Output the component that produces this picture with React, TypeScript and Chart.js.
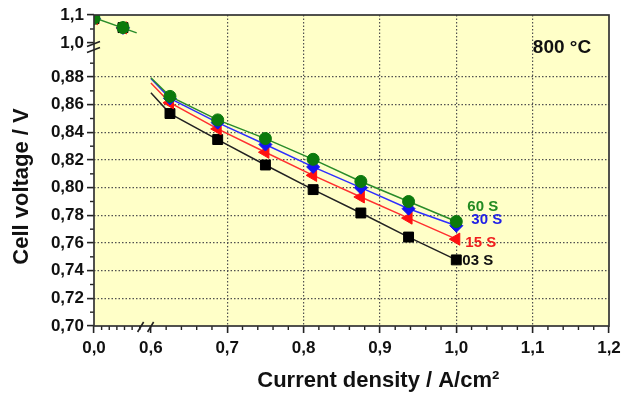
import React, { useEffect, useRef } from 'react';
import { Chart, registerables } from 'chart.js';
Chart.register(...registerables);

// ---- data ----
const SERIES_NAMES = ['60 S', '30 S', '15 S', '03 S'];
const CURRENT = [0.625, 0.6875, 0.75, 0.8125, 0.875, 0.9375, 1.0];
const V_60S = [0.866, 0.849, 0.8355, 0.8205, 0.8045, 0.790, 0.7755];
const V_30S = [0.8645, 0.847, 0.8312, 0.815, 0.800, 0.7848, 0.7725];
const V_15S = [0.8614, 0.8425, 0.8256, 0.8089, 0.7933, 0.778, 0.7628];
const V_03S = [0.8536, 0.8348, 0.8164, 0.7986, 0.7817, 0.7643, 0.7478];
const FIT_START_X = 0.6;
const FIT_START_V = [0.8795, 0.879, 0.8757, 0.8686];
const OCV_CURRENT = [0, 0.038];
const OCV_60S = [1.088, 1.055];
const OCV_30S = [1.087, 1.054];
const OCV_15S = [1.087, 1.054];
const OCV_03S = [1.087, 1.055];
const OCV_FIT_X = [0, 0.056];
const OCV_FIT_V = [1.09, 1.036];
const X_TICKS_LEFT = [0];
const X_TICKS_MAIN = [0.6, 0.7, 0.8, 0.9, 1.0, 1.1, 1.2];
const Y_TICKS_MAIN = [0.70, 0.72, 0.74, 0.76, 0.78, 0.80, 0.82, 0.84, 0.86, 0.88];
const Y_TICKS_TOP = [1.0, 1.1];
const TEMP_LABEL = '800 °C';

const FONT = "'Liberation Sans', Arial, Helvetica, sans-serif";

const STYLES = [
  { color: '#0C7A0C', line: '#2A8C2A', text: '#228B22', ps: 'circle', r: 6, rot: 0, dx: 11, dy: -15 },
  { color: '#1414F0', line: '#2E2EFF', text: '#1E1EE6', ps: 'rectRot', r: 6.5, rot: 0, dx: 15, dy: -6 },
  { color: '#FF1010', line: '#FF3030', text: '#F01E1E', ps: 'triangle', r: 7, rot: -90, dx: 9, dy: 3.5 },
  { color: '#000000', line: '#222222', text: '#111111', ps: 'rect', r: 7, rot: 0, dx: 6, dy: 1 },
];
const MAIN_V = [V_60S, V_30S, V_15S, V_03S];
const OCV_V = [OCV_60S, OCV_30S, OCV_15S, OCV_03S];

const decor = {
  id: 'decor',
  beforeDraw(chart: any) {
    const { ctx, chartArea: a } = chart;
    ctx.save();
    ctx.fillStyle = '#FFFFC8';
    ctx.fillRect(a.left, a.top, a.right - a.left, a.bottom - a.top);
    ctx.restore();
  },
  afterDraw(chart: any) {
    const { ctx, chartArea: a, scales } = chart;
    const { xLeft, xMain, yMain, yTop } = scales;
    ctx.save();
    // minor ticks
    ctx.strokeStyle = '#222';
    ctx.lineWidth = 1.4;
    const hy = (s: any, v: number) => {
      const y = s.getPixelForValue(v);
      ctx.beginPath(); ctx.moveTo(a.left - 4, y); ctx.lineTo(a.left, y); ctx.stroke();
    };
    const vx = (s: any, v: number) => {
      const x = s.getPixelForValue(v);
      ctx.beginPath(); ctx.moveTo(x, a.bottom); ctx.lineTo(x, a.bottom + 4); ctx.stroke();
    };
    for (let i = 71; i <= 89; i += 2) hy(yMain, i / 100);
    hy(yTop, 1.05);
    for (let i = 1; i <= 6; i++) vx(xLeft, i / 100);
    for (let i = 31; i <= 59; i++) if (i % 5 !== 0) vx(xMain, i / 50);
    // frame
    ctx.strokeStyle = '#333';
    ctx.lineWidth = 1.7;
    ctx.strokeRect(a.left, a.top, a.right - a.left, a.bottom - a.top);
    // axis breaks
    ctx.lineWidth = 1.6;
    ctx.strokeStyle = '#222';
    const bx = xMain.left - 2;
    [-5, 5].forEach((o) => {
      ctx.beginPath(); ctx.moveTo(bx + o - 3, a.bottom + 6); ctx.lineTo(bx + o + 3, a.bottom - 4); ctx.stroke();
    });
    const by = yTop.bottom;
    [-3, 3].forEach((o) => {
      ctx.beginPath(); ctx.moveTo(a.left - 7, by + o + 2.5); ctx.lineTo(a.left + 6, by + o - 2.5); ctx.stroke();
    });
    // labels
    ctx.textAlign = 'left';
    ctx.textBaseline = 'middle';
    ctx.font = `bold 15px ${FONT}`;
    SERIES_NAMES.forEach((n, i) => {
      const st = STYLES[i];
      const vals = MAIN_V[i];
      const x = xMain.getPixelForValue(CURRENT[CURRENT.length - 1]) + st.dx;
      const y = yMain.getPixelForValue(vals[vals.length - 1]) + st.dy;
      ctx.fillStyle = st.text;
      ctx.fillText(n, x, y);
    });
    ctx.font = `bold 19px ${FONT}`;
    ctx.fillStyle = '#111';
    ctx.textAlign = 'center';
    ctx.fillText(TEMP_LABEL, a.right - 47, a.top + 33);
    ctx.restore();
  },
};

const tickFont = { family: FONT, size: 17, weight: 'bold' as const };
const titleFont = { family: FONT, size: 22, weight: 'bold' as const };
const setTicks = (arr: number[]) => (s: any) => { s.ticks = arr.map((v) => ({ value: v })); };
const fmt = (d: number) => (v: any) => Number(v).toFixed(d).replace('.', ',');
const gridBase = { lineWidth: 1.2, drawTicks: true, tickLength: 7, tickColor: '#222', tickWidth: 1.6 };
const X_LEFT_MAX = 0.0703;

export default function App() {
  const ref = useRef<HTMLCanvasElement>(null);
  useEffect(() => {
    const canvas = ref.current!;
    const mainSets: any[] = SERIES_NAMES.map((n, i) => {
      const st = STYLES[i];
      return {
        label: n,
        data: [{ x: FIT_START_X, y: FIT_START_V[i] }, ...CURRENT.map((x, j) => ({ x, y: MAIN_V[i][j] }))],
        xAxisID: 'xMain', yAxisID: 'yMain',
        borderColor: st.line, borderWidth: 1.5, backgroundColor: st.color,
        pointStyle: st.ps, pointRotation: st.rot,
        pointRadius: [0, ...CURRENT.map(() => st.r)],
        pointBackgroundColor: st.color, pointBorderColor: st.color, pointBorderWidth: 1,
        tension: 0, fill: false,
      };
    });
    const ocvSets: any[] = SERIES_NAMES.map((n, i) => {
      const st = STYLES[i];
      return {
        label: n + ' ocv',
        data: OCV_CURRENT.map((x, j) => ({ x, y: OCV_V[i][j] })),
        xAxisID: 'xLeft', yAxisID: 'yTop', showLine: false, clip: 0,
        pointStyle: st.ps, pointRotation: st.rot, pointRadius: st.r,
        pointBackgroundColor: st.color, pointBorderColor: st.color, pointBorderWidth: 1,
      };
    });
    const ocvFit = {
      label: 'ocv fit',
      data: OCV_FIT_X.map((x, j) => ({ x, y: OCV_FIT_V[j] })),
      xAxisID: 'xLeft', yAxisID: 'yTop',
      borderColor: STYLES[0].line, borderWidth: 1.5, pointRadius: 0, clip: 0, fill: false,
    };
    // first dataset is drawn on top
    const datasets = [...ocvSets, ocvFit, ...mainSets];
    const chart = new Chart(canvas, {
      type: 'line',
      data: { datasets },
      options: {
        responsive: false,
        animation: false,
        events: [],
        layout: { padding: { left: 0, top: 15, right: 23, bottom: 0 } },
        plugins: { legend: { display: false }, tooltip: { enabled: false } },
        scales: {
          xLeft: {
            type: 'linear', position: 'bottom', stack: 'x', stackWeight: 53.6,
            min: 0, max: X_LEFT_MAX,
            afterBuildTicks: (s: any) => { s.ticks = [...X_TICKS_LEFT, X_LEFT_MAX].map((v) => ({ value: v })); },
            afterFit: (s: any) => { s.height = 71; },
            grid: { ...gridBase, color: 'rgba(0,0,0,0)', tickColor: (c: any) => (c.tick && X_TICKS_LEFT.includes(c.tick.value) ? '#222' : 'rgba(0,0,0,0)') },
            border: { display: false },
            ticks: { font: tickFont, color: '#111', padding: 5, autoSkip: false, maxRotation: 0, callback: (v: any) => (X_TICKS_LEFT.includes(Number(v)) ? fmt(1)(v) : '') },
          },
          xMain: {
            type: 'linear', position: 'bottom', stack: 'x', stackWeight: 461.4,
            min: 0.5957, max: 1.2,
            afterBuildTicks: setTicks(X_TICKS_MAIN),
            afterFit: (s: any) => { s.height = 71; },
            grid: { ...gridBase, color: (c: any) => (c.tick && c.tick.value > 0.65 && c.tick.value < 1.15 ? '#505050' : 'rgba(0,0,0,0)') },
            border: { display: false, dash: [1.5, 2] },
            ticks: { font: tickFont, color: '#111', padding: 5, autoSkip: false, maxRotation: 0, callback: fmt(1) },
            title: { display: true, text: 'Current density / A/cm²', font: titleFont, color: '#111', padding: { top: 3, bottom: 3 } },
          },
          yMain: {
            type: 'linear', position: 'left', stack: 'y', stackWeight: 279,
            min: 0.70, max: 0.9017,
            afterBuildTicks: setTicks(Y_TICKS_MAIN),
            afterFit: (s: any) => { s.width = 94; },
            grid: { ...gridBase, color: (c: any) => (c.tick && c.tick.value > 0.71 ? '#505050' : 'rgba(0,0,0,0)') },
            border: { display: false, dash: [1.5, 2] },
            ticks: { font: tickFont, color: '#111', padding: 3, autoSkip: false, callback: fmt(2) },
            title: { display: true, text: 'Cell voltage / V', font: titleFont, color: '#111', padding: { top: 9, bottom: 9 } },
          },
          yTop: {
            type: 'linear', position: 'left', stack: 'y', stackWeight: 32,
            min: 0.9857, max: 1.1,
            afterBuildTicks: setTicks(Y_TICKS_TOP),
            afterFit: (s: any) => { s.width = 94; },
            grid: { ...gridBase, color: 'rgba(0,0,0,0)' },
            border: { display: false },
            ticks: { font: tickFont, color: '#111', padding: 3, autoSkip: false, callback: fmt(1) },
          },
        },
      } as any,
      plugins: [decor],
    });
    return () => chart.destroy();
  }, []);
  return (
    <div style={{ position: 'fixed', left: 0, top: 0, width: 632, height: 397, background: '#fff' }}>
      <canvas ref={ref} width={632} height={397} style={{ display: 'block', width: 632, height: 397 }} />
    </div>
  );
}
